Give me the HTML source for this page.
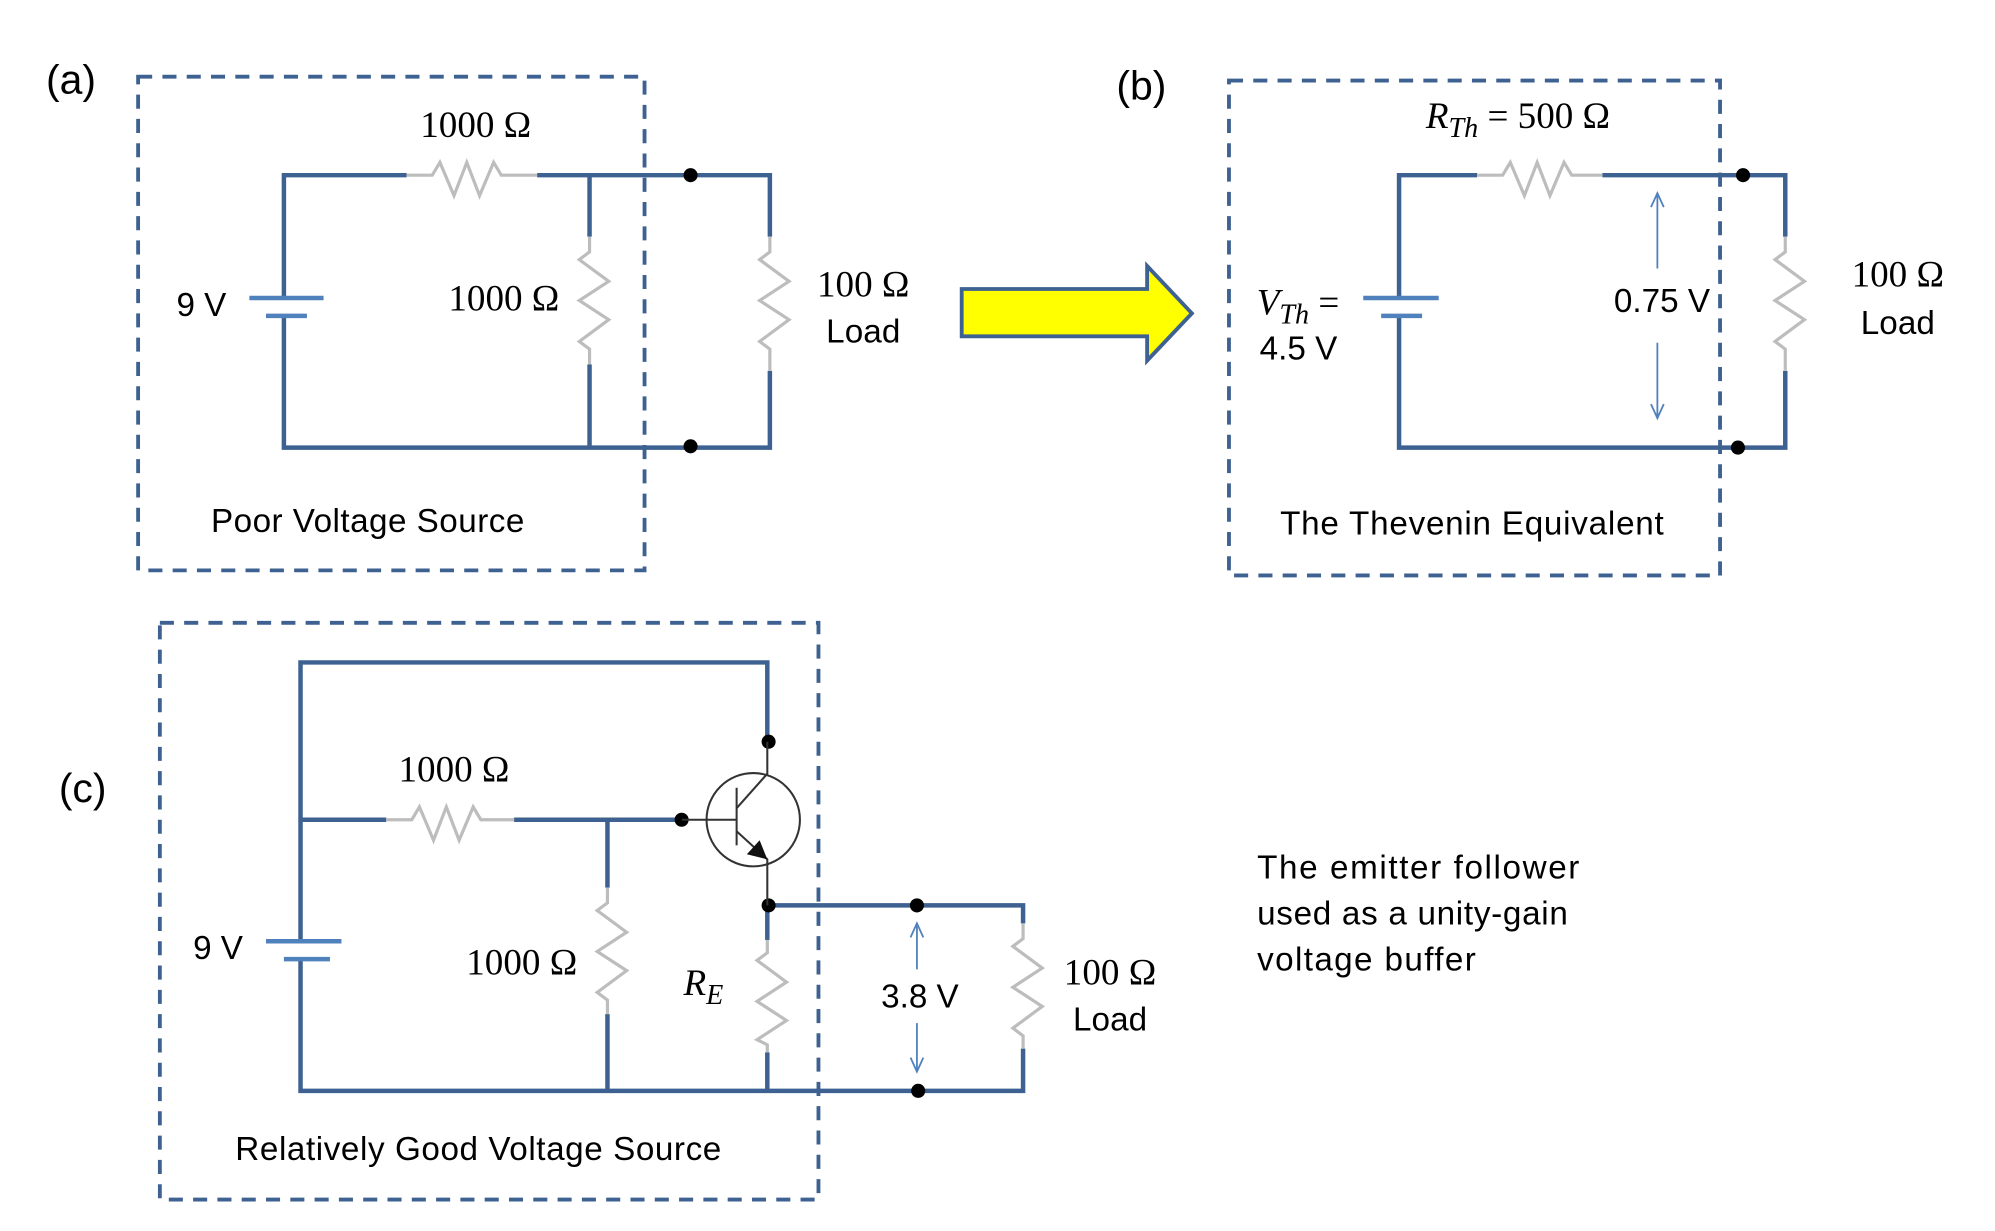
<!DOCTYPE html>
<html><head><meta charset="utf-8"><style>html,body{margin:0;padding:0;background:#fff}svg{display:block}</style></head>
<body>
<svg width="1995" height="1231" viewBox="0 0 1560 962.6" preserveAspectRatio="none" xmlns="http://www.w3.org/2000/svg">
<g fill="none" stroke="#3d6190" stroke-width="3" stroke-dasharray="11,8">
<rect x="108" y="60" width="396" height="386"/>
<rect x="961" y="63" width="384" height="387"/>
<rect x="125" y="487" width="515" height="451"/>
</g>
<g fill="none" stroke="#3d6190" stroke-width="3.5">
<polyline points="318,137 222,137 222,233"/>
<polyline points="222,247 222,350 602,350 602,290"/>
<polyline points="420,137 602,137 602,185"/>
<line x1="461" y1="137" x2="461" y2="185"/><line x1="461" y1="285" x2="461" y2="350"/>
<polyline points="1155,137 1094,137 1094,233"/>
<polyline points="1094,247 1094,350 1396,350 1396,290"/>
<polyline points="1253,137 1396,137 1396,185"/>
<polyline points="600,580 600,518 235,518 235,736"/>
<polyline points="235,750 235,853 800,853 800,820"/>
<polyline points="235,641 302,641"/>
<polyline points="402,641 533,641"/>
<line x1="475" y1="641" x2="475" y2="694"/><line x1="475" y1="793" x2="475" y2="853"/>
<polyline points="600,708 800,708 800,722"/>
<line x1="600" y1="708" x2="600" y2="735"/><line x1="600" y1="823" x2="600" y2="853"/>
</g>
<g stroke="#4f81bd" stroke-width="3.5">
<line x1="195" y1="233" x2="253" y2="233"/><line x1="208" y1="247" x2="240" y2="247"/>
<line x1="1066" y1="233" x2="1125" y2="233"/><line x1="1080" y1="247" x2="1112" y2="247"/>
<line x1="208" y1="736" x2="267" y2="736"/><line x1="222" y1="750" x2="258" y2="750"/>
</g>
<g fill="none" stroke="#bdbdbd" stroke-width="2.5">
<polyline points="318,137 338,137 344,127 355,153 365,127 375,153 386,127 392,137 420,137"/>
<polyline points="1155,137 1175,137 1181,127 1192,153 1202,127 1212,153 1223,127 1229,137 1253,137"/>
<polyline points="302,641 322,641 328,631 339,657 349,631 359,657 370,631 376,641 402,641"/>
<polyline points="461,185 461,197 453,203 476,220 453,235 476,250 453,267 461,273 461,285"/>
<polyline points="602,185 602,197 594,203 617,220 594,235 617,250 594,267 602,273 602,290"/>
<polyline points="1396,185 1396,197 1388,203 1411,220 1388,235 1411,250 1388,267 1396,273 1396,290"/>
<polyline points="475,694 475,706 467,712 490,729 467,744 490,759 467,776 475,782 475,793"/>
<polyline points="600,735 600,745 592,751 615,768 592,783 615,798 592,813 600,817 600,823"/>
<polyline points="800,722 800,734 792,740 815,757 792,772 815,787 792,804 800,810 800,820"/>
</g>
<g fill="#000">
<circle cx="540" cy="137" r="5.5"/><circle cx="540" cy="349" r="5.5"/>
<circle cx="1363" cy="137" r="5.5"/><circle cx="1359" cy="350" r="5.5"/>
<circle cx="601" cy="580" r="5.5"/><circle cx="533" cy="641" r="5.5"/>
<circle cx="601" cy="708" r="5.5"/><circle cx="717" cy="708" r="5.5"/><circle cx="718" cy="853" r="5.5"/>
</g>
<g fill="none" stroke="#333" stroke-width="1.6">
<circle cx="589" cy="641" r="36.5"/>
<line x1="533" y1="641" x2="576" y2="641"/>
<line x1="576" y1="616" x2="576" y2="661"/>
<polyline points="576,632 600,605 600,580"/>
<polyline points="576,650 600,672 600,708"/>
</g>
<polygon points="600,672 584,668 594,657" fill="#111"/>
<g fill="none" stroke="#4f81bd" stroke-width="1.4">
<line x1="1296" y1="151" x2="1296" y2="210"/><polyline points="1291,162 1296,151 1301,162"/>
<line x1="1296" y1="268" x2="1296" y2="327"/><polyline points="1291,316 1296,327 1301,316"/>
<line x1="717" y1="722" x2="717" y2="758"/><polyline points="712,733 717,722 722,733"/>
<line x1="717" y1="800" x2="717" y2="838"/><polyline points="712,827 717,838 722,827"/>
</g>
<polygon points="752,226 897,226 897,208 932,245 897,282 897,263 752,263" fill="#ffff00" stroke="#3d6190" stroke-width="3"/>
<g font-family="Liberation Serif, serif" font-size="29" fill="#000" text-anchor="middle">
<text x="372" y="107">1000 Ω</text>
<text x="394" y="243">1000 Ω</text>
<text x="675" y="232">100 Ω</text>
<text x="1484" y="224">100 Ω</text>
<text x="355" y="611">1000 Ω</text>
<text x="408" y="762">1000 Ω</text>
<text x="868" y="770">100 Ω</text>
<text x="1187" y="100"><tspan font-style="italic">R</tspan><tspan font-style="italic" font-size="22" dy="7">Th</tspan><tspan dy="-7"> = 500 Ω</tspan></text>
<text x="1015" y="246"><tspan font-style="italic">V</tspan><tspan font-style="italic" font-size="22" dy="7">Th</tspan><tspan dy="-7"> =</tspan></text>
<text x="550" y="778"><tspan font-style="italic">R</tspan><tspan font-style="italic" font-size="22" dy="7">E</tspan></text>
</g>
<g font-family="Liberation Sans, sans-serif" font-size="26" fill="#000">
<text x="36" y="73" font-size="32">(a)</text>
<text x="873" y="78" font-size="32">(b)</text>
<text x="46" y="627" font-size="32">(c)</text>
<text x="138" y="247">9 V</text>
<text x="646" y="268" textLength="58">Load</text>
<text x="165" y="416" textLength="245">Poor Voltage Source</text>
<text x="985" y="281">4.5 V</text>
<text x="1262" y="244">0.75 V</text>
<text x="1455" y="261" textLength="58">Load</text>
<text x="1001" y="418" textLength="300">The Thevenin Equivalent</text>
<text x="151" y="750">9 V</text>
<text x="689" y="788">3.8 V</text>
<text x="839" y="806" textLength="58">Load</text>
<text x="184" y="907" textLength="380">Relatively Good Voltage Source</text>
<text x="983" y="687" textLength="252">The emitter follower</text>
<text x="983" y="723" textLength="243">used as a unity-gain</text>
<text x="983" y="759" textLength="171">voltage buffer</text>
</g>
</svg>
</body></html>
